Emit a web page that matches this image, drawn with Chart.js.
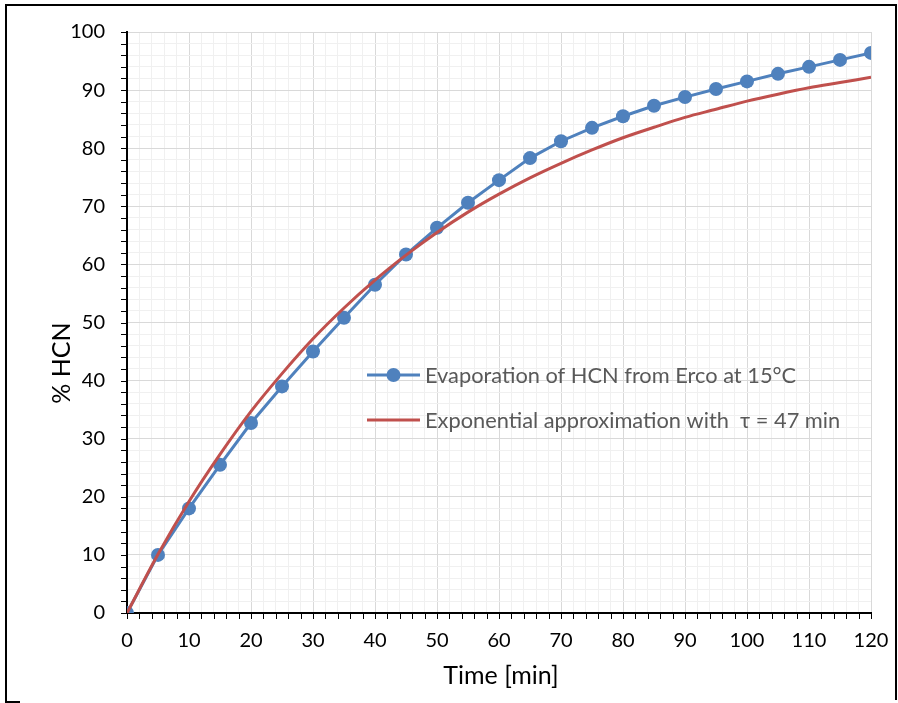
<!DOCTYPE html>
<html>
<head>
<meta charset="utf-8">
<script src="https://cdn.jsdelivr.net/npm/chart.js@4.4.0/dist/chart.umd.min.js"></script>
<style>
html,body{margin:0;padding:0;background:#fff;}
#wrap{width:898px;height:703px;position:relative;}
</style>
</head>
<body>
<div id="wrap"><canvas id="c" width="898" height="703"></canvas></div>
<script>
// Data
const timeMin = [0,5,10,15,20,25,30,35,40,45,50,55,60,65,70,75,80,85,90,95,100,105,110,115,120];
const measuredHCN = [0,10,18,25.5,32.7,39,45,50.8,56.5,61.7,66.3,70.6,74.5,78.3,81.2,83.5,85.5,87.3,88.8,90.2,91.5,92.8,94,95.2,96.4];
const approxHCN = [0,10.1,19.2,27.3,34.7,41.2,47.2,52.5,57.3,61.6,65.5,69,72.1,74.9,77.4,79.7,81.8,83.6,85.3,86.7,88.1,89.3,90.4,91.3,92.2];
const seriesNames = ["Evaporation of HCN from Erco at 15°C", "Exponential approximation with  τ = 47 min"];
const xTitle = "Time [min]";
const yTitle = "% HCN";

const FONT = "Lato, 'Open Sans', sans-serif";
const BLUE = "#4f81bd";
const RED = "#c0504d";

const gridColor = (ctx) => {
  const v = ctx.tick ? ctx.tick.value : 0;
  return (Math.round(v) % 10 === 0) ? "#d9d9d9" : "#f0f0f0";
};

const framePlugin = {
  id: "frame",
  afterDraw(chart) {
    const c = chart.ctx;
    const xs = chart.scales.x, ys = chart.scales.y;
    c.save();
    // tick marks
    c.strokeStyle = "#000";
    c.lineWidth = 1;
    c.beginPath();
    xs.ticks.forEach(t => {
      const px = Math.round(xs.getPixelForValue(t.value)) + 0.5;
      c.moveTo(px, ys.bottom); c.lineTo(px, ys.bottom + 6);
    });
    ys.ticks.forEach(t => {
      const py = Math.round(ys.getPixelForValue(t.value)) + 0.5;
      c.moveTo(xs.left - 6, py); c.lineTo(xs.left, py);
    });
    c.stroke();
    // frame
    c.lineWidth = 2;
    c.beginPath();
    c.moveTo(6, 703); c.lineTo(6, 5); c.lineTo(896, 5); c.lineTo(896, 700);
    c.moveTo(5, 702); c.lineTo(20, 702);
    c.stroke();
    // axis titles
    c.fillStyle = "#000";
    c.font = "25px " + FONT;
    c.textAlign = "center";
    c.textBaseline = "middle";
    c.fillText(xTitle, (xs.left + xs.right) / 2 + 2, 676);
    c.save();
    c.translate(62, 363);
    c.rotate(-Math.PI / 2);
    c.fillText(yTitle, 0, 0);
    c.restore();
    // legend
    const items = [
      {y: 375, color: BLUE, marker: true, text: seriesNames[0]},
      {y: 420, color: RED, marker: false, text: seriesNames[1]}
    ];
    c.font = "21.8px " + FONT;
    c.textBaseline = "middle";
    c.textAlign = "left";
    items.forEach(it => {
      c.strokeStyle = it.color;
      c.lineWidth = 3;
      c.beginPath();
      c.moveTo(367, it.y); c.lineTo(420, it.y);
      c.stroke();
      if (it.marker) {
        c.fillStyle = it.color;
        c.beginPath();
        c.arc(393.5, it.y, 7, 0, Math.PI * 2);
        c.fill();
      }
      c.fillStyle = "#595959";
      c.fillText(it.text, 425, it.y + 1);
    });
    c.restore();
  }
};

new Chart(document.getElementById("c"), {
  type: "line",
  data: {
    datasets: [
      {
        label: seriesNames[0],
        data: timeMin.map((t, i) => ({x: t, y: measuredHCN[i]})),
        borderColor: BLUE,
        backgroundColor: BLUE,
        borderWidth: 3,
        pointRadius: 7,
        pointHoverRadius: 7,
        pointBorderWidth: 0,
        tension: 0,
        order: 2
      },
      {
        label: seriesNames[1],
        data: timeMin.map((t, i) => ({x: t, y: approxHCN[i]})),
        borderColor: RED,
        backgroundColor: RED,
        borderWidth: 3,
        pointRadius: 0,
        cubicInterpolationMode: "monotone",
        order: 1
      }
    ]
  },
  options: {
    responsive: false,
    animation: false,
    events: [],
    layout: {padding: {left: 0, right: 27, top: 32, bottom: 0}},
    plugins: {legend: {display: false}, tooltip: {enabled: false}},
    scales: {
      x: {
        type: "linear",
        min: 0, max: 120,
        afterFit(s) { s.height = 90; s.paddingLeft = 0; s.paddingRight = 0; },
        border: {color: "#000", width: 2},
        grid: {color: gridColor, lineWidth: 1, drawTicks: false},
        ticks: {
          stepSize: 2, autoSkip: false, maxRotation: 0, minRotation: 0,
          color: "#000", font: {family: FONT, size: 20}, padding: 16,
          callback: (v) => (v % 10 === 0 ? String(v) : "")
        }
      },
      y: {
        type: "linear",
        min: 0, max: 100,
        afterFit(s) { s.width = 127; s.paddingTop = 0; s.paddingBottom = 0; },
        border: {color: "#000", width: 2},
        grid: {color: gridColor, lineWidth: 1, drawTicks: false},
        ticks: {
          stepSize: 2, autoSkip: false,
          color: "#000", font: {family: FONT, size: 20}, padding: 22,
          callback: (v) => (v % 10 === 0 ? String(v) : "")
        }
      }
    }
  },
  plugins: [framePlugin]
});
</script>
</body>
</html>
